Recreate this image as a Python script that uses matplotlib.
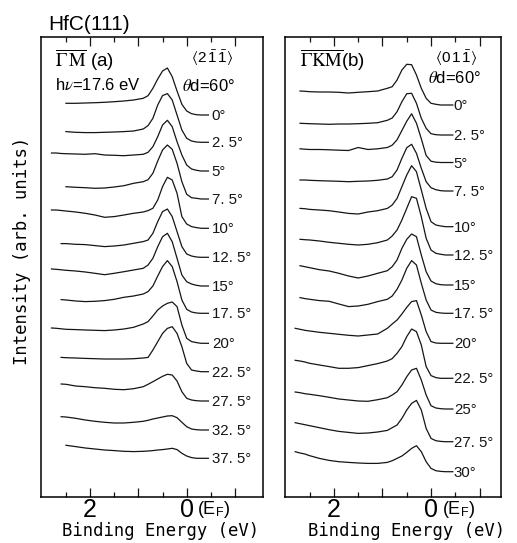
import numpy as np
import matplotlib
matplotlib.use("Agg")
import matplotlib.pyplot as plt
from matplotlib import font_manager

nan = np.nan

# binding energy (eV) at which each spectrum was read
energy = [2.8, 2.7, 2.6, 2.5, 2.3, 2.1, 1.9, 1.7, 1.5, 1.3, 1.1, 0.9, 0.8, 0.7,
          0.6, 0.5, 0.4, 0.3, 0.2, 0.1, 0.0, -0.1, -0.2, -0.3, -0.45]

# (a) GM direction, <2-1-1>
angles_a = ["0°", "2. 5°", "5°", "7. 5°", "10°", "12. 5°", "15°", "17. 5°",
            "20°", "22. 5°", "27. 5°", "32. 5°", "37. 5°"]
offset_a = [382, 354.7, 326, 298, 268.7, 239.7, 211, 183.7, 153.7, 125.3, 96, 67, 38.7]
spectra_a = [
    [nan, nan, nan, 11.7, 11.7, 12, 12.3, 12.7, 13.3, 14, 15, 16.7, 19.3, 26.7, 36, 44, 47, 38.3, 24, 10.7, 4, 1.3, 0.3, 0, 0],
    [nan, nan, nan, 10.7, 10, 9.7, 9.7, 10, 10.3, 10.7, 11.3, 13.3, 16.7, 24, 37.3, 46.7, 48.7, 42.3, 27.3, 12.3, 4, 1.3, 0.3, 0, 0],
    [18, 18, 17.5, 17.3, 17, 16.7, 17.3, 16, 15.7, 15.3, 16, 16.7, 18.7, 24.3, 34.3, 46, 50.7, 44.3, 29.3, 16, 6, 2, 0.7, 0, 0],
    [nan, nan, nan, 12.3, 11.7, 11.3, 10.7, 11, 12, 13.3, 15.7, 17.3, 19.3, 25.7, 38, 49, 54, 49.7, 35.7, 17.3, 4.7, 1.3, 0.7, 0, 0],
    [18.3, 18.3, 17.8, 17.3, 16.3, 15, 13.3, 11, 11.7, 13.3, 15, 16.3, 17.7, 20, 28.3, 41.7, 51, 48.3, 35, 11.7, 4.3, 1.7, 0.7, 0, 0],
    [nan, nan, 13.7, 13.7, 13, 12.7, 11.7, 10.7, 11.3, 12.3, 14, 15.7, 17.3, 24, 35.7, 45.7, 48.3, 40.7, 25.7, 10.7, 3.3, 1.3, 0.3, 0, 0],
    [17, 16.7, 16.2, 15.7, 15, 14, 12.7, 11.3, 12.7, 14.3, 16, 17.7, 21, 27.7, 39.3, 49.3, 52.7, 44.3, 27.7, 11, 4.3, 2, 0.7, 0, 0],
    [nan, nan, 13.7, 13.3, 12.3, 11.7, 12, 12.7, 14, 16, 17.3, 19.3, 21.7, 27.3, 37.3, 46.7, 52.7, 46.7, 31.7, 13.3, 4, 1.3, 0.3, 0, 0],
    [15.3, 15, 14.5, 14, 13.7, 13.3, 13, 12.7, 13.3, 14.3, 16, 19.3, 21.7, 27.3, 33.3, 37.3, 40, 41.3, 36.7, 18.3, 5, 1.7, 0.7, 0, 0],
    [nan, nan, 14.3, 14, 13.7, 13.3, 13, 12.7, 12.7, 12.7, 13, 13.7, 14.3, 21.7, 30, 38.3, 43.3, 45, 38.3, 25, 8.3, 1.7, 0.7, 0, 0],
    [nan, nan, 17, 16.7, 15, 14.3, 13.3, 12.7, 11.7, 11.3, 12.3, 14.3, 16.7, 19.3, 22, 24.7, 26.7, 26, 20, 9.3, 2.7, 1, 0.3, 0, 0],
    [nan, nan, 13.3, 13, 11.7, 10, 8.7, 7.7, 7, 7, 7.7, 8.7, 9.7, 11, 12, 13, 14, 14.3, 12.3, 7.7, 3.3, 1, 0.3, 0, 0],
    [nan, nan, nan, 13, 11.7, 10.3, 9.3, 8.3, 7.7, 7, 6.7, 7, 7.3, 7.7, 8.3, 8.7, 9.3, 10, 8.7, 5, 2.3, 0.7, 0, 0, 0],
]

# (b) GKM direction, <01-1>
angles_b = ["0°", "2. 5°", "5°", "7. 5°", "10°", "12. 5°", "15°", "17. 5°",
            "20°", "22. 5°", "25°", "27. 5°", "30°"]
offset_b = [392, 362, 334.5, 306, 270.3, 242, 212, 183.7, 153.7, 118.7, 88, 55.3, 25.3]
spectra_b = [
    [nan, 14, 13.7, 13.3, 13, 13, 12.7, 12, 12.7, 13.3, 14, 16.7, 18.3, 25, 35, 40.7, 40.3, 30, 16.7, 6.7, 1.7, 0.7, 0, 0, 0],
    [nan, 11.7, 11.5, 11.3, 11, 10.7, 11, 11, 11.3, 11.7, 12.3, 14.7, 17, 23.3, 33.3, 41.3, 41.7, 31.7, 16.7, 6.7, 1.3, 0.3, 0, 0, 0],
    [nan, 13.7, 13.3, 13, 13, 12.7, 12.3, 12, 15, 13, 13.7, 15, 17.3, 22.7, 32, 41.3, 48.7, 39.3, 23.7, 7, 1.3, 0.3, 0, 0, 0],
    [nan, 11, 11, 10.7, 10.3, 10, 9.7, 9.3, 9.7, 10, 10.7, 12, 14.3, 21, 32.7, 43.3, 46.7, 37.7, 22.7, 9.3, 3.3, 1.3, 0.3, 0, 0],
    [nan, 18.3, 18, 17.3, 16.7, 16, 14.7, 13.3, 12.7, 14.7, 16, 18.3, 21.7, 28.3, 40, 51.7, 61, 55, 36.7, 18.3, 5, 1.7, 0.7, 0, 0],
    [nan, 15.7, 15.3, 15, 14, 12.7, 11.7, 10.7, 10, 10.7, 12.3, 15, 19, 25, 35, 46.7, 58.3, 56.7, 38.3, 16.7, 5, 1.7, 0.7, 0, 0],
    [nan, 19.3, 18.3, 17.3, 15.3, 14, 11.7, 9, 7, 9, 11.7, 14.3, 18.3, 25, 36.7, 45.7, 51, 48.3, 30, 13.3, 4, 1.3, 0.3, 0, 0],
    [nan, 15.7, 14.7, 14, 12.7, 12, 9.3, 6.7, 7.3, 9, 11.7, 14, 17.3, 24, 33.3, 45, 52.7, 48.3, 30, 13.3, 3.3, 1, 0.3, 0, 0],
    [15, 14, 13, 12.3, 11, 10, 9, 8, 7.3, 8.3, 9.3, 15, 19.3, 23.3, 29.3, 36, 41.7, 42.7, 28.3, 11.7, 1.7, 0.3, 0, 0, 0],
    [18, 17.3, 16.3, 15, 13.3, 11.7, 10, 10, 10.7, 12.7, 14.7, 17.3, 19.7, 25, 31.7, 41.7, 49.3, 46.7, 33.3, 11.7, 2.7, 0.7, 0, 0, 0],
    [17, 16.3, 15.3, 14.7, 13.3, 11.7, 10, 9, 8, 7.7, 9.3, 11.3, 14, 17.3, 24, 32.3, 39, 40.7, 29, 14, 3.3, 1, 0.3, 0, 0],
    [19, 18, 17, 16, 14, 12, 10.3, 9.3, 8.3, 8.7, 9.7, 11.3, 14, 16.7, 23.3, 31.7, 38.3, 41.3, 31.7, 13.3, 3.3, 1, 0.3, 0, 0],
    [20, 18.7, 17.7, 16, 13.3, 11.3, 10, 9.3, 8.7, 8.3, 8.3, 9.3, 11, 13.3, 15.7, 19.3, 23.3, 26, 20, 10, 3.3, 1, 0.3, 0, 0],
]

installed = {f.name for f in font_manager.fontManager.ttflist}
narrow = "Liberation Sans Narrow" if "Liberation Sans Narrow" in installed else "Liberation Sans"
sans = "Liberation Sans"
mono = "DejaVu Sans Mono"
# serif STIX for the symmetry points, sans for digits and the E_F subscript
plt.rcParams["mathtext.fontset"] = "custom"
plt.rcParams["mathtext.rm"] = "STIXGeneral"
plt.rcParams["mathtext.it"] = "STIXGeneral:italic"
plt.rcParams["mathtext.bf"] = "STIXGeneral:bold"
plt.rcParams["mathtext.sf"] = "Liberation Sans"
plt.rcParams["mathtext.fallback"] = "stix"

W, H = 517, 543
fig = plt.figure(figsize=(W / 100, H / 100), dpi=100)


def px(x, y):
    return x / W, 1 - y / H


def panel(left, right, xlim, spectra, offsets, labels, label_e):
    ax = fig.add_axes([left / W, 1 - 497 / H, (right - left) / W, 460 / H])
    e = np.array(energy)
    for vals, off, lab in zip(spectra, offsets, labels):
        v = np.array(vals, dtype=float)
        ok = ~np.isnan(v)
        ax.plot(e[ok], v[ok] + off, color="#151515", lw=0.9)
        ax.text(label_e, off - 1, lab, ha="left", va="center",
                fontsize=10.8, family=narrow, color="#151515")
    ax.set_xlim(*xlim)
    ax.set_ylim(0, 460)
    ax.set_yticks([])
    ax.set_xticks([2, 1, 0, -1])
    ax.set_xticklabels(["2", "", "0", ""], family=narrow, fontsize=18)
    ax.set_xticks([2.5, 1.5, 0.5, -0.5], minor=True)
    ax.tick_params(which="both", direction="in", top=True, width=0.9, color="#151515")
    ax.tick_params(which="major", length=6.5, pad=0.5)
    ax.tick_params(which="minor", length=3.6)
    for s in ax.spines.values():
        s.set_linewidth(1.1)
    return ax


panel(41, 263, (3.017, -1.58), spectra_a, offset_a, angles_a, -0.52)
panel(285, 501, (3.01, -1.443), spectra_b, offset_b, angles_b, -0.47)

# header and panel annotations
fig.text(*px(48, 25), "HfC(111)", fontsize=15, family=sans, va="center")
fig.text(*px(55, 60), r"$\overline{\Gamma}\,\overline{\mathrm{M}}$ (a)", fontsize=13.5,
         family=sans, va="center")
fig.text(*px(55, 85), r"h$\nu$=17.6 eV", fontsize=12, family=sans, va="center")
fig.text(*px(191, 58), r"$\langle\mathsf{2}\,\bar{\mathsf{1}}\,\bar{\mathsf{1}}\rangle$",
         fontsize=11, va="center")
fig.text(*px(182, 86), r"$\theta$d=60°", fontsize=12, family=narrow, va="center")

fig.text(*px(300, 60), r"$\overline{\Gamma}\overline{\mathrm{K}}\overline{\mathrm{M}}$(b)",
         fontsize=13.5, family=sans, va="center")
fig.text(*px(435, 58), r"$\langle\mathsf{0}\,\mathsf{1}\,\bar{\mathsf{1}}\rangle$",
         fontsize=11, va="center")
fig.text(*px(428, 78), r"$\theta$d=60°", fontsize=12, family=narrow, va="center")

# Fermi level marker next to the zero tick
for x0 in (197, 442):
    fig.text(*px(x0, 510), r"(E$_{\mathsf{F}}$)", fontsize=13, family=sans, va="center")

# axis titles
for x0 in (62, 308):
    fig.text(*px(x0, 531), "Binding Energy (eV)", fontsize=12.4, family=mono, va="center")
fig.text(*px(22, 251), "Intensity (arb. units)", fontsize=12.4, family=mono,
         rotation=90, ha="center", va="center")

fig.savefig("out.png", dpi=100)
